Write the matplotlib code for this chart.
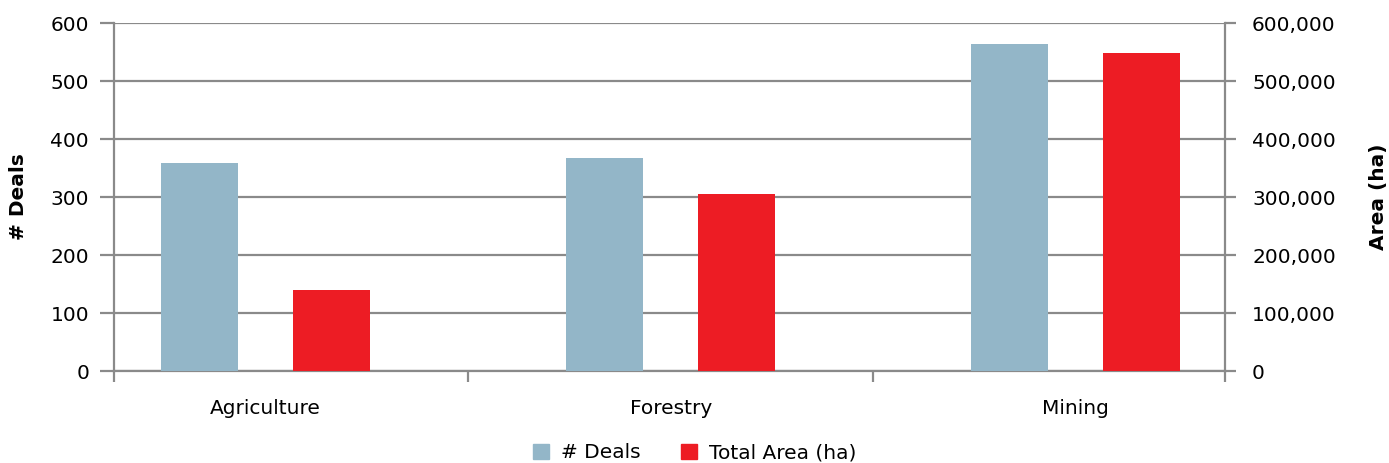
import matplotlib
matplotlib.use("Agg")
import matplotlib.pyplot as plt
from matplotlib.ticker import FuncFormatter, FixedLocator
from matplotlib.patches import Patch

categories = ["Agriculture", "Forestry", "Mining"]
deals = [359, 367, 564]
area_ha = [139000, 305000, 549000]

deals_ticks = [0, 100, 200, 300, 400, 500, 600]
area_ticks = [0, 100000, 200000, 300000, 400000, 500000, 600000]

BLUE = "#93B6C8"
RED = "#ED1C24"
GRID = "#8A8A8A"
FS = 14.5

plt.rcParams["font.family"] = ["DejaVu Sans"]

fig = plt.figure(figsize=(13.89, 4.63), dpi=100)
ax = fig.add_axes([0.0821, 0.1987, 0.8819 - 0.0821, 0.9503 - 0.1987])
ax2 = ax.twinx()

x = list(range(len(categories)))
w = 0.19
off = 0.163
ax.bar([i - off for i in x], deals, width=w, color=BLUE, zorder=3)
ax2.bar([i + off for i in x], area_ha, width=w, color=RED, zorder=3)

ax.set_xlim(-0.374, 2.368)
ax.set_ylim(0, 600)
ax2.set_ylim(0, 600000)
ax.set_yticks(deals_ticks)
ax2.set_yticks(area_ticks)
ax2.yaxis.set_major_formatter(FuncFormatter(lambda v, p: f"{int(v):,}"))

ax.yaxis.grid(True, color=GRID, linewidth=1.6, zorder=0)
ax.set_axisbelow(True)

# category labels centred on groups, tick marks between groups
ax.set_xticks(x)
ax.set_xticklabels(categories, fontsize=FS)
ax.tick_params(axis="x", which="major", length=0, pad=20)
ax.xaxis.set_minor_locator(FixedLocator([-0.374, 0.5, 1.5, 2.368]))
ax.tick_params(axis="x", which="minor", length=8, width=1.6, color=GRID)

ax.tick_params(axis="y", length=10, width=1.6, color=GRID, labelsize=FS, pad=8)
ax2.tick_params(axis="y", length=8, width=1.6, color=GRID, labelsize=FS, pad=11.5)

for a in (ax, ax2):
    for s in a.spines.values():
        s.set_visible(False)
ax.spines["left"].set_visible(True)
ax.spines["left"].set_color(GRID)
ax.spines["left"].set_linewidth(1.6)
ax.spines["bottom"].set_visible(True)
ax.spines["bottom"].set_color(GRID)
ax.spines["bottom"].set_linewidth(1.6)
ax2.spines["right"].set_visible(True)
ax2.spines["right"].set_color(GRID)
ax2.spines["right"].set_linewidth(1.6)

ax.set_ylabel("# Deals", fontsize=FS, fontweight="bold", labelpad=16)
ax2.set_ylabel("Area (ha)", fontsize=FS, fontweight="bold", labelpad=24)

handles = [Patch(color=BLUE, label="# Deals"), Patch(color=RED, label="Total Area (ha)")]
fig.legend(handles=handles, loc="center", bbox_to_anchor=(0.5, 0.022), ncol=2,
           frameon=False, fontsize=FS, handlelength=0.8, handleheight=0.8,
           handletextpad=0.6, columnspacing=2.0)

fig.savefig("out.png", dpi=100)
